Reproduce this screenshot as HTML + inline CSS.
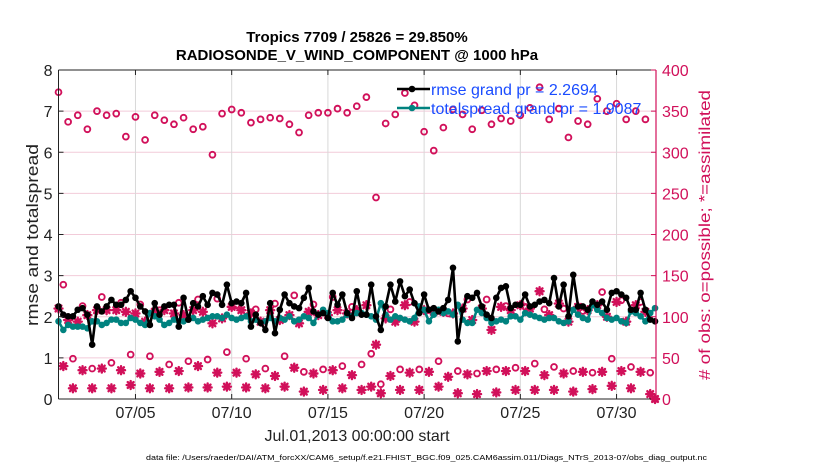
<!DOCTYPE html>
<html><head><meta charset="utf-8"><style>
html,body{margin:0;padding:0;background:#fff;}
svg{display:block;font-family:"Liberation Sans",Arial,sans-serif;}
</style></head><body>
<svg id="chart" width="830" height="470" viewBox="0 0 830 470">
<text x="357" y="42" text-anchor="middle" font-size="15" font-weight="bold" fill="#000">Tropics 7709 / 25826 = 29.850%</text>
<text x="357" y="60" text-anchor="middle" font-size="15" font-weight="bold" fill="#000">RADIOSONDE_V_WIND_COMPONENT @ 1000 hPa</text>
<g id="grid"></g>
<g id="marks"></g>
<g id="axes"></g>
<text transform="translate(38,235) rotate(-90)" text-anchor="middle" font-size="17" textLength="182" lengthAdjust="spacingAndGlyphs" fill="#222">rmse and totalspread</text>
<text transform="translate(710,235) rotate(-90)" text-anchor="middle" font-size="16" textLength="290" lengthAdjust="spacingAndGlyphs" fill="#d1105a"># of obs: o=possible; *=assimilated</text>
<text x="357" y="441" text-anchor="middle" font-size="16" fill="#222">Jul.01,2013 00:00:00 start</text>
<text x="146" y="460" font-size="7.5" textLength="561" lengthAdjust="spacingAndGlyphs" fill="#000">data file: /Users/raeder/DAI/ATM_forcXX/CAM6_setup/f.e21.FHIST_BGC.f09_025.CAM6assim.011/Diags_NTrS_2013-07/obs_diag_output.nc</text>
<g id="legend"></g>
</svg>
<script>
const rmse = [2.25,2.05,2.01,2.01,2.17,2.21,2.05,1.32,2.25,2.13,2.25,2.41,2.29,2.29,2.41,2.62,2.46,2.25,2.13,1.80,2.33,2.05,2.25,2.29,2.29,1.76,2.46,1.93,2.33,2.25,2.50,2.29,2.58,2.54,2.29,2.78,2.33,2.37,2.33,2.58,1.76,2.05,
1.85,1.68,2.33,1.60,2.17,2.54,2.33,2.25,2.21,2.46,2.70,2.13,2.05,2.09,1.97,2.58,2.29,2.54,2.09,1.97,2.62,2.05,2.05,2.78,2.01,1.68,2.25,2.78,2.37,2.86,2.50,2.66,2.33,2.09,2.54,2.17,2.21,2.13,2.21,2.41,3.19,1.40,
2.17,2.50,2.46,2.58,2.25,2.05,1.97,2.46,2.70,2.74,2.21,2.29,2.29,2.54,2.25,2.29,2.37,2.41,2.33,2.94,2.25,2.78,2.01,3.02,2.25,2.25,2.17,2.37,2.29,2.37,2.17,2.58,2.62,2.54,2.46,2.17,2.17,2.58,2.17,1.93,1.89];
const spread = [1.89,1.68,1.80,1.76,1.76,1.76,1.72,1.89,1.89,1.80,1.85,1.93,1.93,1.85,1.85,1.97,1.93,1.85,1.80,2.09,2.01,1.93,1.80,1.85,1.93,1.89,1.89,1.93,1.97,1.89,1.93,1.97,2.01,2.01,1.97,2.05,1.97,1.93,1.97,2.01,1.89,1.93,
1.85,1.89,1.97,1.89,1.97,1.93,2.01,1.89,1.93,2.01,1.97,1.85,2.05,2.17,2.09,1.89,1.89,1.93,2.05,2.01,2.09,2.09,2.05,2.01,1.93,2.33,2.05,1.93,2.01,1.97,1.93,1.89,1.97,2.25,2.17,1.89,2.05,2.17,2.09,2.13,2.05,2.29,
1.93,1.85,1.85,2.17,2.09,1.97,1.85,1.89,1.93,1.89,2.01,2.01,1.93,2.09,2.05,2.01,1.97,1.93,1.97,1.97,1.89,1.85,1.89,2.17,2.05,1.97,1.93,2.29,2.17,2.09,1.97,1.93,1.97,1.89,1.85,2.13,2.09,2.01,1.89,2.09,2.21];
const possSyn = [373,337,345,328,350,345,347,319,343,315,345,339,334,342,328,331,297,347,352,348,336,340,
342,341,334,324,345,348,348,353,348,356,367,245,335,346,372,357,325,302,330,352,
346,328,351,334,341,338,345,354,379,340,353,318,338,334,365,350,359,340,350,340,0];
const usedSyn = [110,96,94,102,108,108,108,106,104,94,106,108,104,102,108,106,92,98,112,108,104,
94,108,96,102,92,106,102,102,108,104,108,114,66,98,94,114,94,108,106,106,104,
110,96,110,84,112,108,114,110,131,102,116,94,112,108,114,100,118,94,114,106,0];
const poss06 = [139,113,124,117,115,108,117,121,122,114,109, 116,126,115,124,112,55,109,118,108,104, 121,121,113,112,109,110,107,130,120,118];
const used06 = [40,35,37,35,31,33,34,40,32,32,30, 28,38,31,35,29,15,28,32,33,27, 30,34,34,34,29,31,33,33,34,33];
const poss18 = [49,37,44,54,52,42,46,48,57,49, 37,52,33,36,40,42,18,36,36,46,34, 31,36,38,43,39,34,32,49,39,32];
const used18 = [13,13,13,17,13,13,14,14,15,14, 13,15,9,11,13,11,7,11,11,15,7, 6,8,11,11,11,9,12,16,13,6];
const dateTicks = ["07/05","07/10","07/15","07/20","07/25","07/30"];
const dateTickDays = [4,9,14,19,24,29];
const leftTicks = [0,1,2,3,4,5,6,7,8];
const rightTicks = [0,50,100,150,200,250,300,350,400];

const NS="http://www.w3.org/2000/svg";
const X0=58.5,X1=656,Y0=399,Y1=70,DAYS=31.05;
const xs=d=>X0+(d/DAYS)*(X1-X0);
const yl=v=>Y0-(v/8)*(Y0-Y1);
const yr=v=>Y0-(v/400)*(Y0-Y1);
const PINK="#d1105a",TEAL="#00827f";
function mk(tag,attrs,parent){const e=document.createElementNS(NS,tag);for(const k in attrs)e.setAttribute(k,attrs[k]);parent.appendChild(e);return e;}
const grid=document.getElementById('grid'),marks=document.getElementById('marks'),axes=document.getElementById('axes'),legend=document.getElementById('legend');

leftTicks.forEach(v=>{ if(v>0&&v<8){const l=mk('line',{x1:X0,x2:X1,y1:yl(v),y2:yl(v),stroke:'#f2cbd9','stroke-width':1},grid);

}});
dateTickDays.forEach(d=>{const l=mk('line',{x1:xs(d),x2:xs(d),y1:Y1,y2:Y0,stroke:'#d8d8d8','stroke-width':1},grid);

});

function star(cx,cy,parent){const g=mk('g',{stroke:PINK,'stroke-width':2.4,'stroke-linecap':'round'},parent);


const r=4;[[r,0],[0,r],[r*0.72,r*0.72],[r*0.72,-r*0.72]].forEach(([a,b])=>mk('line',{x1:cx-a,y1:cy-b,x2:cx+a,y2:cy+b},g));}
function ring(cx,cy,parent){const c=mk('circle',{cx:cx,cy:cy,r:2.9,fill:'none',stroke:PINK,'stroke-width':1.9},parent);

}

const countG=mk('g',{},marks);


possSyn.forEach((v,k)=>{ring(xs(k*0.5),yr(v),countG);});
poss06.forEach((v,k)=>{ring(xs(k+0.25),yr(v),countG);});
poss18.forEach((v,k)=>{ring(xs(k+0.75),yr(v),countG);});
usedSyn.forEach((v,k)=>{star(xs(k*0.5),yr(v),countG);});
used06.forEach((v,k)=>{star(xs(k+0.25),yr(v),countG);});
used18.forEach((v,k)=>{star(xs(k+0.75),yr(v),countG);});

function series(arr,color,name){const g=mk('g',{},marks);


const pts=arr.map((v,i)=>xs(i*0.25).toFixed(1)+','+yl(v).toFixed(1)).join(' ');
mk('polyline',{points:pts,fill:'none',stroke:color,'stroke-width':2.6,'stroke-linejoin':'round'},g);
arr.forEach((v,i)=>{const c=mk('circle',{cx:xs(i*0.25),cy:yl(v),r:3.3,fill:color},g);

});}
series(spread,TEAL,'totalspread-series');
series(rmse,'#000','rmse-series');

mk('line',{x1:X0,x2:X1,y1:Y1,y2:Y1,stroke:'#222','stroke-width':1},axes);
mk('line',{x1:X0,x2:X1,y1:Y0,y2:Y0,stroke:'#222','stroke-width':1},axes);
mk('line',{x1:X0,x2:X0,y1:Y1,y2:Y0,stroke:'#222','stroke-width':1},axes);
mk('line',{x1:X1,x2:X1,y1:Y1,y2:Y0,stroke:PINK,'stroke-width':1.2},axes);
leftTicks.forEach(v=>{mk('line',{x1:X0,x2:X0+5,y1:yl(v),y2:yl(v),stroke:'#222'},axes);
const t=mk('text',{x:X0-6,y:yl(v)+6,'text-anchor':'end','font-size':16,fill:'#222'},axes);t.textContent=v;

});
rightTicks.forEach(v=>{mk('line',{x1:X1-5,x2:X1,y1:yr(v),y2:yr(v),stroke:PINK},axes);
const t=mk('text',{x:X1+6,y:yr(v)+6,'font-size':16,fill:PINK},axes);t.textContent=v;

});
dateTickDays.forEach((d,k)=>{mk('line',{x1:xs(d),x2:xs(d),y1:Y0,y2:Y0-5,stroke:'#222'},axes);
mk('line',{x1:xs(d),x2:xs(d),y1:Y1,y2:Y1+5,stroke:'#222'},axes);
const t=mk('text',{x:xs(d),y:418,'text-anchor':'middle','font-size':16,fill:'#222'},axes);t.textContent=dateTicks[k];

});

[[ '#000','rmse grand pr = 2.2694',89],[TEAL,'totalspread grand pr = 1.9087',108]].forEach(([c,txt,y],k)=>{
const g=mk('g',{},legend);


mk('line',{x1:397,x2:430,y1:y,y2:y,stroke:c,'stroke-width':2.6},g);
mk('circle',{cx:412,cy:y,r:3.3,fill:c},g);
const t=mk('text',{x:431,y:y+6,'font-size':16,fill:'#1a4cff'},g);t.textContent=txt;});
</script>
</body></html>
